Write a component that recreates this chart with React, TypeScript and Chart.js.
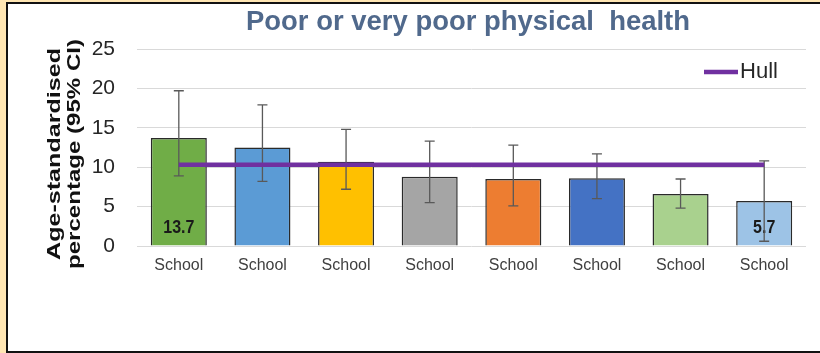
import React, { useEffect, useRef } from "react";
import { Chart, registerables } from "chart.js";

Chart.register(...registerables);

const categories = ["School", "School", "School", "School", "School", "School", "School", "School"];
const values = [13.7, 12.5, 10.7, 8.8, 8.5, 8.6, 6.6, 5.7];
const ciLower = [8.9, 8.2, 7.2, 5.5, 5.1, 6.0, 4.8, 0.6];
const ciUpper = [19.7, 17.9, 14.8, 13.3, 12.8, 11.7, 8.5, 10.8];
const hullValue = 10.3;
const hullValues = categories.map(() => hullValue);
const showValueLabel = [true, false, false, false, false, false, false, true];
const barColors = ["#70AD47", "#5B9BD5", "#FFC000", "#A5A5A5", "#ED7D31", "#4472C4", "#A9D18E", "#9DC3E6"];
const yTicks = [0, 5, 10, 15, 20, 25];

const FONT = "'Liberation Sans', Arial, sans-serif";

export default function App() {
  const ref = useRef<HTMLCanvasElement | null>(null);

  useEffect(() => {
    if (!ref.current) return;

    const errorBars = {
      id: "errorBars",
      afterDatasetDraw(chart: any, args: any) {
        if (args.index !== 0) return;
        const ctx = chart.ctx;
        const meta = chart.getDatasetMeta(0);
        const y = chart.scales.y;
        ctx.save();
        ctx.font = `bold 16px ${FONT}`;
        ctx.fillStyle = "#1a1a1a";
        ctx.textAlign = "center";
        ctx.textBaseline = "middle";
        meta.data.forEach((bar: any, i: number) => {
          if (showValueLabel[i]) {
            ctx.save();
            ctx.translate(bar.x, y.getPixelForValue(0) - 18);
            ctx.scale(1, 1.2);
            ctx.fillText(values[i].toFixed(1), 0, 0);
            ctx.restore();
          }
        });
        ctx.strokeStyle = "#595959";
        ctx.lineWidth = 1.3;
        meta.data.forEach((bar: any, i: number) => {
          const x = bar.x;
          const yt = y.getPixelForValue(ciUpper[i]);
          const yb = y.getPixelForValue(ciLower[i]);
          ctx.beginPath();
          ctx.moveTo(x, yt);
          ctx.lineTo(x, yb);
          ctx.moveTo(x - 5, yt);
          ctx.lineTo(x + 5, yt);
          ctx.moveTo(x - 5, yb);
          ctx.lineTo(x + 5, yb);
          ctx.stroke();
        });
        ctx.restore();
      },
    };

    const drawFitted = (ctx: any, text: string, x: number, y: number, targetW: number, sy: number) => {
      const w = ctx.measureText(text).width;
      ctx.save();
      ctx.translate(x, y);
      ctx.scale(targetW / w, sy);
      ctx.fillText(text, 0, 0);
      ctx.restore();
    };

    const decorations = {
      id: "decorations",
      afterDraw(chart: any) {
        const ctx = chart.ctx;
        ctx.save();
        // title
        ctx.font = `bold 24px ${FONT}`;
        ctx.fillStyle = "#50698C";
        ctx.textAlign = "center";
        ctx.textBaseline = "middle";
        drawFitted(ctx, "Poor or very poor physical  health", 468, 22, 444, 1.15);
        // y axis title
        ctx.save();
        ctx.translate(0, 154);
        ctx.rotate(-Math.PI / 2);
        ctx.font = `bold 19px ${FONT}`;
        ctx.fillStyle = "#111111";
        ctx.textAlign = "center";
        ctx.textBaseline = "middle";
        drawFitted(ctx, "Age-standardised", 0, 55, 212, 1);
        drawFitted(ctx, "percentage (95% CI)", 0, 75, 230, 1);
        ctx.restore();
        // legend
        ctx.strokeStyle = "#7030A0";
        ctx.lineWidth = 4.5;
        ctx.lineCap = "butt";
        ctx.beginPath();
        ctx.moveTo(704, 72);
        ctx.lineTo(738, 72);
        ctx.stroke();
        ctx.font = `20px ${FONT}`;
        ctx.fillStyle = "#262626";
        ctx.textAlign = "left";
        ctx.textBaseline = "middle";
        drawFitted(ctx, "Hull", 740, 72, 38, 1.1);
        ctx.restore();
      },
    };

    const chart = new Chart(ref.current, {
      type: "bar",
      data: {
        labels: categories,
        datasets: [
          {
            type: "bar",
            label: "Schools",
            data: values,
            backgroundColor: barColors,
            borderColor: "#2a2a2a",
            borderWidth: 1.5,
            categoryPercentage: 1,
            barPercentage: 0.67,
            order: 1,
          } as any,
          {
            type: "line",
            label: "Hull",
            data: hullValues,
            borderColor: "#7030A0",
            borderWidth: 4.5,
            pointRadius: 0,
            fill: false,
            order: 0,
          } as any,
        ],
      },
      options: {
        animation: false,
        responsive: false,
        maintainAspectRatio: false,
        layout: { padding: { top: 49, left: 0, right: 14, bottom: 0 } },
        plugins: {
          legend: { display: false },
          title: { display: false },
          tooltip: { enabled: false },
        },
        scales: {
          x: {
            grid: { display: false, drawTicks: false },
            border: { display: false },
            ticks: {
              padding: 10,
              color: "#404040",
              font: { family: FONT, size: 16 },
              maxRotation: 0,
              autoSkip: false,
            },
            afterFit: (s: any) => {
              s.height = 107;
            },
          },
          y: {
            min: 0,
            max: 25,
            afterBuildTicks: (s: any) => {
              s.ticks = yTicks.map((v) => ({ value: v }));
            },
            grid: { color: "#D9D9D9", lineWidth: 1, drawTicks: false },
            border: { display: false },
            ticks: {
              padding: 22,
              color: "#262626",
              font: { family: FONT, size: 21 },
            },
            afterFit: (s: any) => {
              s.width = 137;
            },
          },
        },
      },
      plugins: [errorBars, decorations],
    });
    return () => chart.destroy();
  }, []);

  return (
    <div style={{ position: "fixed", left: 0, top: 0, width: 820, height: 353, background: "#FFE6B3" }}>
      <div
        style={{
          position: "absolute",
          left: 6,
          top: 2,
          width: 814,
          height: 347,
          background: "#FFFFFF",
          borderLeft: "2px solid #111",
          borderTop: "2px solid #111",
          borderBottom: "2px solid #111",
        }}
      />
      <canvas
        ref={ref}
        width={820}
        height={353}
        style={{ position: "absolute", left: 0, top: 0, width: 820, height: 353 }}
      />
    </div>
  );
}
